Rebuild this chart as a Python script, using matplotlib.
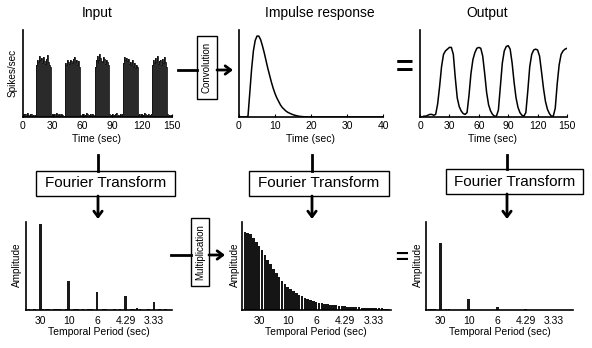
import numpy as np
import matplotlib
matplotlib.use('Agg')
import matplotlib.pyplot as plt
from matplotlib.patches import Rectangle

# ---- data ----
# input: spike rate per 1-sec bin, 0..149 s
input_rate = [
    0.02, 0.04, 0.03, 0.01, 0.05, 0.02, 0.00, 0.03, 0.04, 0.01, 0.02, 0.00, 0.02,
    0.60, 0.66, 0.63, 0.70, 0.65, 0.68, 0.62, 0.69, 0.64, 0.61, 0.67, 0.71, 0.63, 0.60, 0.58,
    0.01, 0.03, 0.02, 0.04, 0.00, 0.05, 0.03, 0.02, 0.04, 0.01, 0.03, 0.02, 0.00, 0.01,
    0.62, 0.60, 0.65, 0.63, 0.61, 0.66, 0.64, 0.62, 0.67, 0.69, 0.63, 0.65, 0.60, 0.64, 0.58,
    0.02, 0.00, 0.03, 0.04, 0.01, 0.02, 0.05, 0.03, 0.00, 0.02, 0.04, 0.01, 0.03, 0.02, 0.00,
    0.58, 0.65, 0.70, 0.62, 0.66, 0.72, 0.68, 0.64, 0.63, 0.69, 0.67, 0.61, 0.65, 0.63, 0.60,
    0.03, 0.01, 0.02, 0.04, 0.00, 0.02, 0.03, 0.05, 0.01, 0.02, 0.00, 0.03, 0.02, 0.04,
    0.62, 0.69, 0.66, 0.68, 0.64, 0.67, 0.61, 0.63, 0.60, 0.65, 0.58, 0.62, 0.56, 0.60, 0.57,
    0.02, 0.04, 0.01, 0.03, 0.00, 0.02, 0.05, 0.03, 0.01, 0.02, 0.04, 0.00, 0.02, 0.03,
    0.60, 0.65, 0.62, 0.68, 0.63, 0.70, 0.61, 0.64, 0.66, 0.60, 0.67, 0.62, 0.69, 0.63, 0.58,
    0.03, 0.01, 0.02, 0.00, 0.02,
]
input_edges = np.arange(len(input_rate) + 1)

# impulse response sampled every 0.5 s from 0 to 20 s, then flat to 40 s
hrf_time = list(np.arange(0, 20.5, 0.5)) + [40]
hrf_value = [
    0.0, 0.0, 0.0, 0.0, 0.0, 0.01, 0.28, 0.55, 0.76, 0.88,
    0.93, 0.93, 0.89, 0.82, 0.74, 0.65, 0.56, 0.48, 0.40, 0.33,
    0.27, 0.22, 0.18, 0.14, 0.11, 0.09, 0.07, 0.055, 0.045, 0.035,
    0.027, 0.02, 0.015, 0.01, 0.007, 0.005, 0.003, 0.002, 0.001, 0.0,
    0.0, 0.0,
]

# output (convolution) sampled every 2 s, 0..150 s
out_time = np.arange(0, 151, 2)
out_value = [
    0.0, 0.0, 0.01, 0.01, 0.02, 0.03, 0.03, 0.02, 0.03, 0.15,
    0.35, 0.58, 0.72, 0.76, 0.78, 0.80, 0.80, 0.72, 0.45, 0.22,
    0.12, 0.07, 0.04, 0.03, 0.05, 0.25, 0.50, 0.66, 0.74, 0.79,
    0.80, 0.79, 0.70, 0.50, 0.28, 0.14, 0.07, 0.03, 0.01, 0.01,
    0.08, 0.35, 0.62, 0.76, 0.81, 0.82, 0.78, 0.62, 0.40, 0.22,
    0.11, 0.05, 0.02, 0.01, 0.05, 0.30, 0.58, 0.72, 0.77, 0.78,
    0.77, 0.70, 0.52, 0.33, 0.18, 0.09, 0.04, 0.01, 0.01, 0.10,
    0.38, 0.60, 0.72, 0.76, 0.78, 0.79,
]

# Fourier amplitudes, frequency bins 0..50 (bin k = k cycles / 150 s)
freq_bin = np.arange(51)
input_amp = [
    0.01, 0.01, 0.00, 0.01, 0.00, 0.98, 0.01, 0.015, 0.01, 0.00,
    0.01, 0.01, 0.012, 0.00, 0.01, 0.33, 0.00, 0.01, 0.012, 0.00,
    0.01, 0.00, 0.008, 0.01, 0.00, 0.20, 0.00, 0.01, 0.008, 0.00,
    0.00, 0.01, 0.00, 0.008, 0.00, 0.16, 0.00, 0.01, 0.015, 0.02,
    0.01, 0.00, 0.00, 0.01, 0.00, 0.095, 0.00, 0.008, 0.00, 0.01,
    0.00,
]
hrf_amp = [
    0.89, 0.88, 0.86, 0.82, 0.77, 0.73, 0.68, 0.63, 0.57, 0.52,
    0.47, 0.42, 0.37, 0.33, 0.295, 0.265, 0.24, 0.215, 0.195, 0.175,
    0.155, 0.14, 0.125, 0.113, 0.102, 0.092, 0.085, 0.078, 0.071, 0.065,
    0.06, 0.056, 0.052, 0.048, 0.044, 0.041, 0.038, 0.036, 0.034, 0.032,
    0.03, 0.028, 0.027, 0.025, 0.024, 0.023, 0.021, 0.02, 0.018, 0.015,
    0.012,
]
output_amp = [
    0.01, 0.01, 0.008, 0.01, 0.00, 0.76, 0.00, 0.008, 0.008, 0.00,
    0.00, 0.00, 0.00, 0.00, 0.00, 0.12, 0.00, 0.00, 0.00, 0.00,
    0.00, 0.00, 0.00, 0.00, 0.00, 0.034, 0.00, 0.00, 0.00, 0.00,
    0.00, 0.00, 0.00, 0.00, 0.00, 0.008, 0.00, 0.00, 0.00, 0.00,
    0.00, 0.00, 0.00, 0.00, 0.00, 0.005, 0.00, 0.00, 0.00, 0.00,
    0.00,
]
period_ticks = [5, 15, 25, 35, 45]
period_labels = ['30', '10', '6', '4.29', '3.33']

# ---- layout helpers (pixels, origin top-left) ----
W, H = 592, 348
plt.rcParams['font.family'] = ['Liberation Sans', 'DejaVu Sans']

fig = plt.figure(figsize=(W / 100, H / 100), dpi=100)


def fx(x):
    return x / W


def fy(y):
    return 1 - y / H


def make_axes(left, top, right, bottom):
    ax = fig.add_axes([fx(left), fy(bottom), (right - left) / W, (bottom - top) / H])
    ax.set_facecolor('none')
    for s in ['top', 'right']:
        ax.spines[s].set_visible(False)
    for s in ['left', 'bottom']:
        ax.spines[s].set_linewidth(1.2)
    ax.set_yticks([])
    ax.set_ylim(0, 1)
    ax.tick_params(axis='x', direction='in', length=2, width=0.8, labelsize=7.5, pad=3)
    return ax


def txt(x, y, s, size=7, **kw):
    fig.text(fx(x), fy(y), s, fontsize=size, ha='center', va='center', **kw)


def arrow(x0, y0, x1, y1):
    fig.add_artist(matplotlib.patches.FancyArrowPatch(
        (fx(x0), fy(y0)), (fx(x1), fy(y1)), transform=fig.transFigure,
        arrowstyle='->,head_length=4,head_width=3', lw=2, color='k',
        shrinkA=0, shrinkB=0))


def line(x0, y0, x1, y1):
    fig.add_artist(plt.Line2D([fx(x0), fx(x1)], [fy(y0), fy(y1)],
                              transform=fig.transFigure, color='k', lw=2))


def box(x0, y0, x1, y1):
    fig.add_artist(Rectangle((fx(x0), fy(y1)), (x1 - x0) / W, (y1 - y0) / H,
                             transform=fig.transFigure, fill=False, ec='k', lw=1))


# ---- top row: time domain ----
ax1 = make_axes(23, 30, 172, 117)
ax1.stairs(input_rate, input_edges, fill=True, color='#2a2a2a')
ax1.stairs(input_rate, input_edges, color='#111111', lw=0.6)
ax1.set_xlim(0, 150)
ax1.set_xticks([0, 30, 60, 90, 120, 150])

ax2 = make_axes(239, 30, 383, 117)
ax2.plot(hrf_time, hrf_value, color='k', lw=1.1)
ax2.set_xlim(0, 40)
ax2.set_xticks([0, 10, 20, 30, 40])

ax3 = make_axes(420, 30, 567, 117)
ax3.plot(out_time, out_value, color='k', lw=1.1)
ax3.set_xlim(0, 150)
ax3.set_xticks([0, 30, 60, 90, 120, 150])

for x in [97, 311, 493]:
    txt(x, 139, 'Time (sec)', 7.5)

txt(97, 13, 'Input', 10)
txt(320, 13, 'Impulse response', 10)
txt(487, 13, 'Output', 10)
txt(13, 73, 'Spikes/sec', 7.2, rotation=90)

# ---- bottom row: frequency domain ----
ax4 = make_axes(26, 222, 172, 310)
ax4.bar(freq_bin, input_amp, width=0.9, color='#1a1a1a', linewidth=0)
ax4.set_xlim(0, 51.3)

ax5 = make_axes(242, 222, 391, 310)
ax5.bar(freq_bin, hrf_amp, width=0.9, color='#151515', linewidth=0)
ax5.set_xlim(-1, 51.2)

ax6 = make_axes(426, 222, 573, 310)
ax6.bar(freq_bin, output_amp, width=0.9, color='#1a1a1a', linewidth=0)
ax6.set_xlim(0, 51.6)

for ax in [ax4, ax5, ax6]:
    ax.set_xticks(period_ticks)
    ax.set_xticklabels(period_labels)
    ax.tick_params(axis='x', length=0, pad=4)

for x in [99, 316, 500]:
    txt(x, 332, 'Temporal Period (sec)', 7.5)
for x in [17, 235, 418]:
    txt(x, 265, 'Amplitude', 7.2, rotation=90)

# ---- Fourier Transform boxes and arrows ----
for (x0, x1, cx, top) in [(36, 175, 98, 171), (249, 389, 312, 171), (446, 583, 507, 169)]:
    line(cx, 155, cx, top)
    box(x0, top, x1, top + 25)
    txt((x0 + x1) / 2, top + 12.5, 'Fourier Transform', 11)
    arrow(cx, top + 25, cx, 219)

# convolution / multiplication links
line(178, 70, 197, 70)
box(197, 36, 217, 99)
txt(207, 67.5, 'Convolution', 7, rotation=90)
arrow(217, 70, 233, 70)

line(171, 255, 191, 255)
box(191, 218, 209, 286)
txt(200, 252, 'Multiplication', 7, rotation=90)
arrow(209, 255, 225, 255)

txt(405, 69, '=', 22, fontweight='bold')
txt(402, 259, '=', 16, fontweight='bold')

fig.savefig('out.png', dpi=100)
